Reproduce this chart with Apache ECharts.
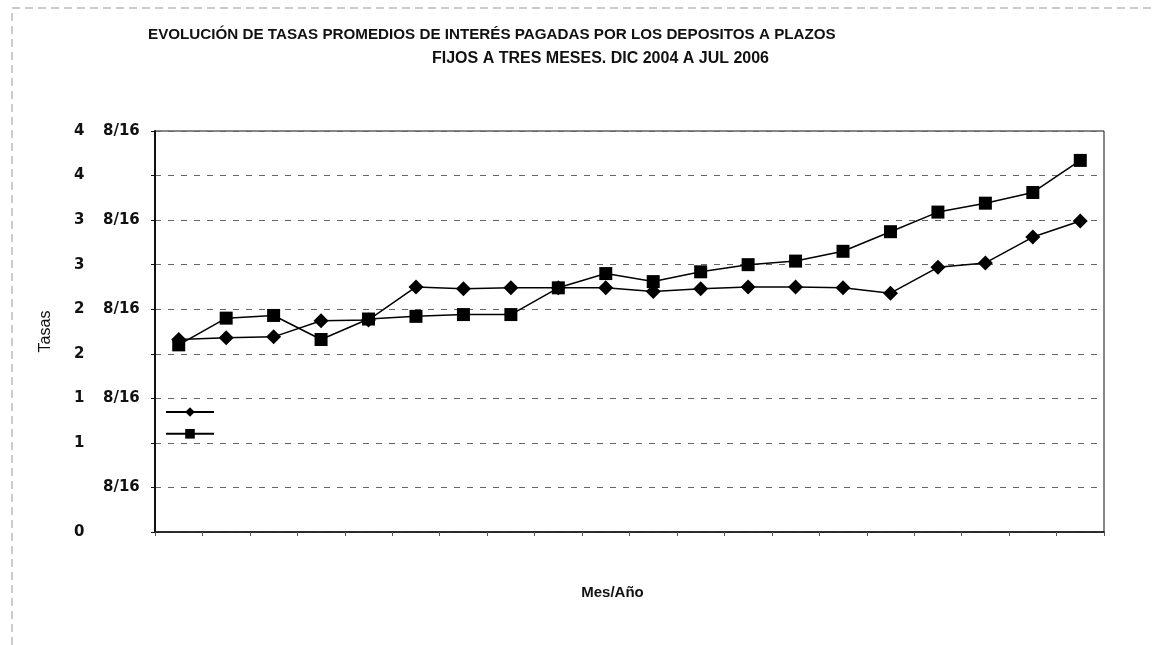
<!DOCTYPE html>
<html>
<head>
<meta charset="utf-8">
<script src="https://cdn.jsdelivr.net/npm/echarts@6/dist/echarts.min.js"></script>
<style>
  html, body { margin: 0; padding: 0; background: #fff; }
  #chart { width: 1155px; height: 645px; }
</style>
</head>
<body>
<div id="chart"></div>
<script>
// Meses de Dic 2004 a Jul 2006
const meses = ['Dic-04', 'Ene-05', 'Feb-05', 'Mar-05', 'Abr-05', 'May-05', 'Jun-05', 'Jul-05',
  'Ago-05', 'Sep-05', 'Oct-05', 'Nov-05', 'Dic-05', 'Ene-06', 'Feb-06', 'Mar-06',
  'Abr-06', 'May-06', 'Jun-06', 'Jul-06'];
// serie con rombos
const serie1 = [2.16, 2.18, 2.19, 2.37, 2.38, 2.75, 2.73, 2.74, 2.74, 2.74,
  2.70, 2.73, 2.75, 2.75, 2.74, 2.68, 2.97, 3.02, 3.31, 3.49];
// serie con cuadrados
const serie2 = [2.10, 2.40, 2.43, 2.16, 2.39, 2.42, 2.44, 2.44, 2.74, 2.90,
  2.81, 2.92, 3.00, 3.04, 3.15, 3.37, 3.59, 3.69, 3.81, 4.17];
// etiquetas del eje Y (paso 0.5)
const yLabels = ['0', '8/16', '1', '1 8/16', '2', '2 8/16', '3', '3 8/16', '4', '4 8/16'];

function renderChart() {
  const chart = echarts.init(document.getElementById('chart'));
  const titleFont = '"Liberation Sans", Arial, sans-serif';
  const option = {
    backgroundColor: '#fff',
    animation: false,
    title: [
      {
        text: 'EVOLUCIÓN DE TASAS PROMEDIOS DE INTERÉS PAGADAS POR LOS DEPOSITOS A PLAZOS',
        left: 143,
        top: 22,
        textStyle: { fontFamily: titleFont, fontWeight: 'bold', fontSize: 15.2, color: '#111' },
      },
      {
        text: 'FIJOS A TRES MESES. DIC 2004 A JUL 2006',
        left: 427,
        top: 46,
        textStyle: { fontFamily: titleFont, fontWeight: 'bold', fontSize: 16, color: '#111' },
      },
    ],
    graphic: [
      {
        type: 'rect',
        shape: { x: 12, y: 8, width: 1160, height: 660 },
        style: { fill: 'none', stroke: '#999', lineWidth: 1, lineDash: [8, 5] },
        silent: true,
      },
    ],
    legend: {
      orient: 'vertical',
      left: 160,
      top: 401,
      itemWidth: 48,
      itemHeight: 12,
      itemGap: 11,
      formatter: () => '',
      data: ['Serie1', 'Serie2'],
    },
    grid: {
      left: 155,
      right: 51,
      top: 131,
      bottom: 113,
      show: true,
      borderColor: '#111',
      borderWidth: 1,
    },
    xAxis: {
      type: 'category',
      data: meses,
      name: 'Mes/Año',
      nameLocation: 'middle',
      nameGap: 53,
      nameTextStyle: {
        fontFamily: titleFont,
        fontWeight: 'bold',
        fontSize: 15,
        color: '#111',
        padding: [0, 34, 0, 0],
      },
      axisLine: { lineStyle: { color: '#111', width: 1.5 } },
      axisTick: { show: true, length: 4, interval: 0, lineStyle: { color: '#555' } },
      axisLabel: { show: false },
      splitLine: { show: false },
    },
    yAxis: {
      type: 'value',
      min: 0,
      max: 4.5,
      interval: 0.5,
      name: 'Tasas',
      nameLocation: 'middle',
      nameGap: 101,
      nameRotate: 90,
      nameTextStyle: {
        fontFamily: titleFont,
        fontSize: 16,
        color: '#111',
      },
      axisLine: { show: true, lineStyle: { color: '#111', width: 2 } },
      axisTick: { show: true, length: 4, lineStyle: { color: '#111' } },
      axisLabel: {
        align: 'left',
        margin: 81,
        formatter: function (v) {
          const s = yLabels[Math.round(v / 0.5)] || '';
          const parts = s.split(' ');
          if (s.indexOf('/') < 0) return '{a|' + s + '}{b|}';
          if (parts.length === 1) return '{a|}{b|' + s + '}';
          return '{a|' + parts[0] + '}{b|' + parts[1] + '}';
        },
        rich: {
          a: { width: 29, align: 'left', fontFamily: '"DejaVu Sans", sans-serif', fontWeight: 'bold', fontSize: 15, color: '#111' },
          b: { width: 42, align: 'left', fontFamily: '"DejaVu Sans", sans-serif', fontWeight: 'bold', fontSize: 15, color: '#111' },
        },
      },
      splitLine: {
        show: true,
        lineStyle: { color: '#666', width: 1, type: [6, 7] },
      },
    },
    series: [
      {
        name: 'Serie1',
        type: 'line',
        data: serie1,
        symbol: 'diamond',
        symbolSize: 15,
        itemStyle: { color: '#000' },
        lineStyle: { color: '#000', width: 1.5 },
      },
      {
        name: 'Serie2',
        type: 'line',
        data: serie2,
        symbol: 'rect',
        symbolSize: 13,
        itemStyle: { color: '#000' },
        lineStyle: { color: '#000', width: 1.5 },
      },
    ],
  };
  chart.setOption(option, true);
}

renderChart();
</script>
</body>
</html>
